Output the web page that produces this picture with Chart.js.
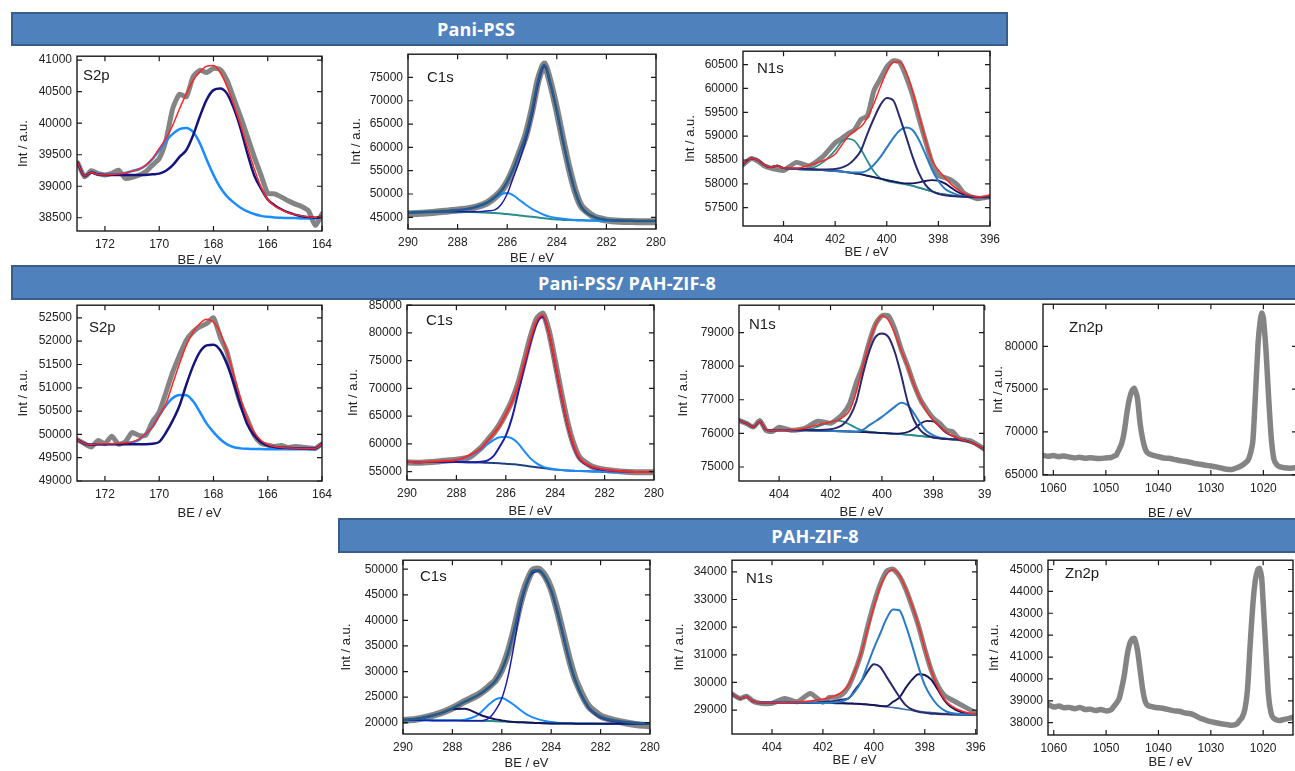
<!DOCTYPE html>
<html>
<head>
<meta charset="utf-8">
<script src="https://cdn.jsdelivr.net/npm/chart.js@4.4.0/dist/chart.umd.min.js"></script>
<style>
html,body{margin:0;padding:0;background:#fff;width:1295px;height:771px;overflow:hidden;position:relative;}
.bar{position:absolute;background:#4f81bd;border:2px solid #385d8a;box-sizing:border-box;color:#fff;font:700 18px "Open Sans",sans-serif;z-index:5;}
.bar span{position:absolute;top:50%;transform:translate(-50%,-52%);white-space:nowrap;letter-spacing:0.2px;}
canvas{position:absolute;}
</style>
</head>
<body>
<div class="bar" style="left:11px;top:12px;width:997px;height:34px"><span style="left:463px">Pani-PSS</span></div>
<div class="bar" style="left:11px;top:265px;width:1300px;height:35px"><span style="left:614px">Pani-PSS/ PAH-ZIF-8</span></div>
<div class="bar" style="left:338px;top:518px;width:970px;height:35px"><span style="left:475px">PAH-ZIF-8</span></div>
<script>
// ---------- shared x grids and tick labels ----------
const s2pGrid = [173,172.75,172.5,172.25,172,171.75,171.5,171.25,171,170.75,170.5,170.25,170,169.75,169.5,169.25,169,168.75,168.5,168.25,168,167.75,167.5,167.25,167,166.75,166.5,166.25,166,165.75,165.5,165.25,165,164.75,164.5,164.25,164];
const c1sGrid = [290,289.5,289,288.5,288,287.5,287,286.75,286.5,286.25,286,285.75,285.5,285.25,285,284.75,284.5,284.25,284,283.75,283.5,283.25,283,282.5,282,281.5,281,280.5,280];
const n1sGrid = [405.6,405.25,405,404.75,404.5,404.25,404,403.5,403,402.5,402,401.75,401.5,401.25,401,400.75,400.5,400.25,400,399.75,399.5,399.25,399,398.75,398.5,398.25,398,397.75,397.5,397.25,397,396.5,396];

const s2pTicksX = [172,170,168,166,164];
const c1sTicksX = [290,288,286,284,282,280];
const n1sTicksX = [404,402,400,398,396];
const zn2pTicksX = [1060,1050,1040,1030,1020];

// ---------- Pani-PSS : S2p ----------
const s2pA_ticksY = [38500,39000,39500,40000,40500,41000];
const s2pA_raw = [39370,39150,39245,39200,39180,39205,39255,39125,39140,39175,39230,39335,39440,39730,40235,40460,40420,40735,40840,40805,40870,40850,40680,40390,40100,39790,39470,39180,38890,38880,38830,38770,38720,38680,38610,38380,38560];
const s2pA_fit = [39370,39160,39220,39185,39180,39185,39195,39210,39240,39270,39330,39440,39600,39760,39970,40230,40470,40680,40815,40905,40915,40800,40580,40290,39970,39625,39280,38990,38790,38690,38630,38580,38550,38530,38515,38505,38520];
const s2pA_c1 = [39370,39160,39220,39185,39180,39180,39180,39180,39180,39180,39180,39190,39200,39245,39335,39465,39575,39810,40110,40375,40525,40550,40470,40235,39915,39520,39175,38965,38790,38700,38635,38585,38550,38525,38510,38500,38520];
const s2pA_c2 = [39370,39160,39220,39185,39180,39185,39195,39210,39240,39270,39330,39430,39570,39720,39830,39905,39925,39860,39680,39420,39180,38980,38840,38740,38660,38600,38560,38530,38515,38505,38500,38495,38495,38490,38490,38490,38510];

// ---------- Pani-PSS : C1s ----------
const c1sA_ticksY = [45000,50000,55000,60000,65000,70000,75000];
const c1sA_raw = [45750,45850,46050,46300,46550,46900,47650,48300,49300,50600,52600,55400,58900,62600,68000,74500,77900,73700,68000,61500,55500,50500,47300,45100,44400,44150,44100,44050,44050];
const c1sA_fit = [46000,46100,46200,46350,46550,46900,47700,48300,49300,50600,52600,55400,58900,62600,67900,74400,77700,73600,67900,61400,55400,50400,47200,45100,44450,44300,44250,44200,44200];
const c1sA_c1 = [46000,46100,46150,46200,46200,46180,46250,46400,46600,47700,50000,53600,57300,61500,66800,73500,77300,73300,67600,61200,55200,50300,47100,45050,44450,44300,44250,44200,44200];
const c1sA_c2 = [46000,46050,46100,46200,46350,46900,47500,48300,49200,49900,50200,49700,48700,47700,46800,46100,45500,45100,44850,44700,44550,44450,44400,44300,44250,44230,44220,44200,44200];
const c1sA_bg = [46000,46080,46150,46200,46200,46150,46050,46000,45900,45800,45700,45550,45400,45250,45100,44950,44800,44650,44550,44450,44400,44350,44300,44270,44250,44230,44220,44200,44200];

// ---------- Pani-PSS : N1s ----------
const n1sA_ticksY = [57500,58000,58500,59000,59500,60000,60500];
const n1sA_raw = [58390,58530,58480,58380,58330,58300,58280,58450,58380,58560,58860,58950,59050,59130,59350,59420,59950,60200,60450,60580,60550,60250,59860,59370,58900,58450,58180,58130,58080,57970,57800,57690,57730];
const n1sA_fit = [58390,58530,58500,58400,58350,58380,58330,58330,58390,58480,58620,58810,58990,59110,59195,59390,59680,60030,60345,60550,60555,60345,59930,59440,58920,58500,58290,58130,57990,57880,57800,57730,57760];
const n1sA_c1 = [58390,58530,58500,58400,58350,58380,58330,58320,58310,58300,58310,58340,58400,58520,58700,59050,59370,59650,59800,59750,59400,58990,58570,58220,57980,57850,57790,57760,57745,57735,57730,57720,57720];
const n1sA_c2 = [58390,58530,58500,58400,58350,58380,58330,58310,58300,58290,58270,58255,58245,58240,58240,58280,58400,58560,58760,58960,59120,59180,59130,58920,58620,58300,58060,57900,57820,57770,57740,57720,57720];
const n1sA_c3 = [58390,58530,58500,58400,58350,58380,58330,58310,58320,58440,58700,58880,58950,58900,58720,58480,58260,58120,58060,58030,58010,57990,57960,57920,57880,57840,57800,57780,57760,57745,57735,57725,57720];
const n1sA_c4 = [58390,58530,58500,58400,58350,58380,58330,58310,58300,58290,58270,58260,58240,58220,58200,58170,58140,58110,58080,58050,58025,58010,58010,58030,58060,58080,58070,58010,57920,57830,57770,57730,57720];
const n1sA_bg = [58390,58530,58500,58400,58350,58380,58330,58310,58300,58290,58270,58260,58240,58220,58200,58170,58140,58110,58080,58050,58020,57990,57960,57920,57880,57840,57800,57780,57760,57745,57735,57725,57720];

// ---------- Pani-PSS/PAH-ZIF-8 : S2p ----------
const s2pB_ticksY = [49000,49500,50000,50500,51000,51500,52000,52500];
const s2pB_raw = [49880,49800,49730,49870,49800,49960,49790,49840,50040,49980,49980,50270,50480,50900,51340,51700,52020,52200,52310,52380,52500,52090,51770,51160,50660,50320,49980,49810,49770,49740,49760,49720,49740,49730,49710,49700,49800];
const s2pB_fit = [49880,49800,49780,49800,49800,49800,49810,49820,49840,49900,50010,50160,50410,50660,51090,51520,51910,52200,52380,52470,52410,52185,51770,51270,50770,50325,50050,49875,49780,49740,49720,49710,49705,49700,49700,49700,49800];
const s2pB_c1 = [49880,49800,49780,49790,49790,49790,49790,49790,49790,49790,49790,49800,49840,50040,50300,50620,51070,51470,51770,51910,51925,51805,51505,51090,50625,50210,49980,49830,49760,49730,49715,49710,49705,49700,49700,49700,49800];
const s2pB_c2 = [49880,49800,49780,49790,49790,49795,49800,49810,49830,49880,50010,50160,50400,50620,50780,50845,50840,50710,50480,50230,50050,49895,49785,49725,49700,49690,49685,49685,49682,49680,49680,49680,49680,49680,49680,49685,49780];

// ---------- Pani-PSS/PAH-ZIF-8 : C1s ----------
const c1sB_ticksY = [55000,60000,65000,70000,75000,80000,85000];
const c1sB_raw = [56650,56600,56750,56950,57150,57550,59300,60600,61900,63500,65500,67800,70800,74900,79200,82500,83500,80200,74700,69000,63800,59900,57500,55900,55350,55100,54950,54900,54900];
const c1sB_fit = [56800,56700,56800,56950,57100,57900,59200,60500,61800,63300,65300,67600,70600,74700,78900,82200,83200,80000,74500,68800,63600,59700,57400,55900,55400,55150,55000,54950,54950];
const c1sB_c1 = [56800,56700,56750,56750,56750,56700,56800,57000,57800,59500,61500,64700,69200,73900,78300,81700,82900,79900,74300,68600,63400,59500,57200,55800,55300,55100,55000,54950,54950];
const c1sB_c2 = [56800,56700,56750,56800,57000,57800,59000,59900,60700,61200,61300,61000,60100,58700,57400,56500,55900,55600,55400,55300,55200,55150,55100,55050,55000,54980,54960,54950,54950];
const c1sB_bg = [56800,56700,56750,56750,56750,56700,56650,56600,56550,56500,56450,56350,56250,56100,55950,55800,55650,55500,55380,55280,55200,55150,55100,55050,55000,54980,54960,54950,54950];

// ---------- Pani-PSS/PAH-ZIF-8 : N1s ----------
const n1sB_ticksY = [75000,76000,77000,78000,79000];
const n1sB_raw = [76400,76290,76190,76380,76080,76060,76180,76090,76150,76360,76300,76420,76600,76900,77500,78000,78700,79250,79500,79500,79100,78500,78000,77450,77000,76700,76450,76300,76100,76050,75850,75760,75520];
const n1sB_fit = [76400,76290,76190,76350,76100,76090,76090,76100,76150,76250,76340,76380,76490,76690,77230,77980,78670,79220,79500,79370,78970,78470,77980,77430,76990,76640,76390,76190,76040,75930,75840,75720,75520];
const n1sB_c1 = [76400,76290,76190,76350,76100,76090,76090,76100,76100,76100,76120,76170,76270,76500,76940,77730,78420,78870,78970,78870,78420,77730,76940,76390,76090,75940,75880,75850,75830,75820,75810,75720,75520];
const n1sB_c2 = [76400,76290,76190,76350,76100,76090,76090,76090,76090,76080,76070,76065,76060,76055,76050,76100,76240,76360,76490,76640,76790,76910,76840,76590,76290,76060,75940,75870,75840,75820,75810,75720,75520];
const n1sB_c3 = [76400,76290,76190,76350,76100,76090,76090,76090,76090,76080,76070,76065,76060,76055,76050,76040,76030,76020,76010,76000,75990,76000,76040,76140,76290,76370,76360,76190,76020,75920,75840,75720,75520];
const n1sB_c4 = [76400,76290,76190,76350,76100,76090,76090,76090,76100,76200,76340,76380,76350,76260,76160,76080,76050,76030,76010,76000,75990,75975,75960,75940,75920,75900,75880,75860,75840,75830,75820,75720,75520];
const n1sB_bg = [76400,76290,76190,76350,76100,76090,76090,76090,76090,76080,76070,76065,76060,76055,76050,76040,76030,76020,76010,76000,75990,75975,75960,75940,75920,75900,75880,75860,75840,75830,75820,75720,75520];

// ---------- Pani-PSS/PAH-ZIF-8 : Zn2p ----------
const zn2pB_ticksY = [65000,70000,75000,80000];
const zn2pB_be = [1062,1061,1060,1059,1058,1057,1056,1055,1054,1053,1052,1051,1050,1049,1048.5,1048,1047.5,1047,1046.5,1046,1045.5,1045,1044.6,1044,1043.5,1043,1042.5,1042,1041.5,1041,1040,1039,1038,1037,1036,1035,1034,1033,1032,1031,1030,1029,1028,1027,1026,1025,1024,1023.5,1023,1022.5,1022,1021.5,1021,1020.6,1020.3,1020,1019.5,1019,1018.5,1018,1017.5,1017,1016,1015,1014,1013.5];
const zn2pB_raw = [67250,67150,67220,67100,67180,67050,66950,67020,66920,66980,66900,66880,66950,67000,67150,67300,67900,68600,70000,72200,73900,74850,75100,74000,71100,69200,68000,67500,67350,67250,67100,66950,66900,66780,66650,66550,66450,66300,66200,66100,66000,65900,65750,65620,65600,65800,66100,66350,66600,67400,69000,74500,80500,83000,83900,83300,79500,74000,69300,66800,66200,65950,65800,65750,65800,65780];

// ---------- PAH-ZIF-8 : C1s ----------
const c1sC_ticksY = [20000,25000,30000,35000,40000,45000,50000];
const c1sC_raw = [20450,20650,21150,21850,22850,24150,25350,26150,27150,28300,30400,33700,38200,43400,47300,49800,50000,48700,46100,41900,37000,32100,28200,23300,21300,20500,20000,19600,19400];
const c1sC_fit = [20520,20710,21170,21820,22800,24100,25270,26050,27030,28200,30280,33530,38090,43300,47200,49670,49800,48500,45900,41700,36800,31900,28000,23100,21170,20500,20150,19950,19850];
const c1sC_c1 = [20500,20480,20460,20440,20420,20400,20370,20450,20950,22450,24750,29000,35300,42300,46900,49300,49600,48300,45700,41500,36600,31700,27800,22900,20950,20300,19950,19850,19830];
const c1sC_c2 = [20520,20710,21150,21820,22660,22730,21820,21300,20970,20650,20450,20250,20150,20090,20030,19980,19930,19890,19860,19840,19830,19825,19820,19820,19820,19820,19820,19820,19820];
const c1sC_c3 = [20500,20480,20460,20440,20430,20600,21430,22470,23640,24550,24810,24290,23450,22470,21630,21040,20650,20330,20130,20000,19920,19870,19840,19830,19820,19820,19820,19820,19820];
const c1sC_bg = [20500,20480,20460,20440,20420,20400,20370,20350,20320,20290,20250,20200,20150,20090,20030,19980,19930,19890,19860,19840,19830,19825,19820,19820,19820,19820,19820,19820,19820];

// ---------- PAH-ZIF-8 : N1s ----------
const n1sC_ticksY = [29000,30000,31000,32000,33000,34000];
const n1sC_raw = [29600,29420,29500,29330,29250,29230,29240,29420,29300,29600,29280,29460,29470,29560,29840,30380,31050,32000,32850,33550,34030,34100,33850,33380,32750,32050,31200,30450,29900,29550,29400,29150,28900];
const n1sC_fit = [29600,29420,29480,29320,29280,29270,29270,29275,29290,29330,29400,29450,29530,29660,29900,30390,31050,31890,32730,33460,33920,34080,33880,33400,32800,32070,31230,30440,29840,29420,29180,28950,28850];
const n1sC_c1 = [29600,29420,29480,29320,29280,29270,29270,29270,29270,29270,29260,29260,29280,29320,29420,29660,30020,30630,31230,31770,32310,32640,32610,32070,31350,30570,29900,29480,29180,29000,28900,28850,28830];
const n1sC_c2 = [29600,29420,29480,29320,29280,29270,29270,29270,29270,29270,29290,29310,29340,29380,29420,29720,30020,30390,30660,30560,30200,29840,29480,29180,29020,28940,28900,28870,28860,28850,28840,28830,28820];
const n1sC_c3 = [29600,29420,29480,29320,29280,29270,29270,29270,29270,29265,29260,29255,29250,29245,29240,29230,29220,29200,29180,29150,29140,29300,29450,29800,30100,30300,30270,30100,29750,29380,29130,28900,28840];
const n1sC_bg = [29600,29420,29480,29320,29280,29270,29270,29270,29270,29265,29260,29255,29250,29245,29240,29230,29220,29200,29180,29150,29120,29090,29060,29020,28990,28960,28930,28910,28890,28870,28860,28840,28830];

// ---------- PAH-ZIF-8 : Zn2p ----------
const zn2pC_ticksY = [38000,39000,40000,41000,42000,43000,44000,45000];
const zn2pC_be = [1061.2,1060,1059,1058,1057,1056,1055,1054,1053,1052,1051,1050,1049,1048.5,1048,1047.5,1047,1046.5,1046,1045.5,1045,1044.6,1044,1043.5,1043,1042.5,1042,1041,1040,1039,1038,1037,1036,1035,1034,1033,1032,1031,1030,1029,1028,1027,1026,1025,1024.5,1024,1023.5,1023,1022.5,1022,1021.5,1021,1020.7,1020.3,1020,1019.5,1019,1018.5,1018,1017,1016,1015,1014.2];
const zn2pC_raw = [38850,38720,38760,38680,38700,38640,38700,38600,38620,38560,38600,38540,38600,38750,38900,39100,39600,40200,41050,41600,41830,41850,41300,40400,39500,38950,38780,38720,38680,38650,38600,38540,38520,38450,38420,38330,38200,38120,38050,38000,37950,37920,37880,37950,38100,38250,38600,39500,41500,43300,44500,45000,45050,44650,43500,41400,39300,38450,38200,38100,38150,38200,38250];

// ---------- styles ----------
const GRAY = 'rgba(122,122,122,0.92)';
const RED = '#ff2626';
const NAVY = '#14147c';
const LBLUE = '#1a8cff';
const TEAL = '#2a8c8c';
const STEEL = '#2a7bc4';
const SLATE = '#2a2a6e';
const DNAVY = '#16165a';
const BGBLUE = '#3a6ea8';
const ENV = '#255b8a';
const FONT = '"Liberation Sans", Arial, Helvetica, sans-serif';

Chart.defaults.font.family = FONT;
Chart.defaults.color = '#222';

const framePlugin = {
  id: 'frame',
  afterDatasetsDraw(chart, args, opts) {
    const {ctx, chartArea: a, scales} = chart;
    const x = scales.x, y = scales.y;
    ctx.save();
    ctx.strokeStyle = '#1a1a1a';
    ctx.lineWidth = 1.4;
    ctx.strokeRect(a.left, a.top, a.right - a.left, a.bottom - a.top);
    ctx.beginPath();
    const L = 5;
    x.ticks.forEach(t => {
      const p = x.getPixelForValue(t.value);
      ctx.moveTo(p, a.bottom); ctx.lineTo(p, a.bottom - L);
      ctx.moveTo(p, a.top); ctx.lineTo(p, a.top + L);
    });
    y.ticks.forEach(t => {
      const p = y.getPixelForValue(t.value);
      ctx.moveTo(a.left, p); ctx.lineTo(a.left + L, p);
      ctx.moveTo(a.right, p); ctx.lineTo(a.right - L, p);
    });
    ctx.lineWidth = 1.2;
    ctx.stroke();
    ctx.fillStyle = '#1a1a1a';
    ctx.font = '15px ' + FONT;
    ctx.textBaseline = 'alphabetic';
    ctx.fillText(opts.label, a.left + opts.dx, a.top + opts.dy);
    ctx.restore();
  }
};

function makeChart(cfg) {
  const padL = 72, padT = 12, padR = 22, padB = 46;
  const b = cfg.box;
  const w = b.r - b.l + padL + padR, h = b.b - b.t + padT + padB;
  const cv = document.createElement('canvas');
  cv.width = w; cv.height = h;
  cv.style.left = (b.l - padL) + 'px';
  cv.style.top = (b.t - padT) + 'px';
  cv.style.width = w + 'px';
  cv.style.height = h + 'px';
  document.body.appendChild(cv);
  const datasets = cfg.series.map(s => ({
    data: cfg.xs.map((xv, i) => ({x: xv, y: s.data[i]})),
    borderColor: s.color,
    borderWidth: s.width,
    pointRadius: 0,
    fill: false,
    cubicInterpolationMode: s.raw ? 'default' : 'monotone',
    tension: s.raw ? 0.2 : 0,
    borderJoinStyle: 'round',
    borderCapStyle: 'round'
  })).reverse();
  new Chart(cv.getContext('2d'), {
    type: 'line',
    data: {datasets},
    options: {
      responsive: false,
      animation: false,
      devicePixelRatio: 1,
      events: [],
      layout: {padding: {left: 0, top: padT, right: padR, bottom: 0}},
      plugins: {
        legend: {display: false},
        tooltip: {enabled: false},
        frame: {label: cfg.label, dx: cfg.ldx, dy: cfg.ldy}
      },
      scales: {
        x: {
          type: 'linear', reverse: true, min: cfg.xMin, max: cfg.xMax,
          afterFit: s => { s.height = padB; },
          afterBuildTicks: s => { s.ticks = cfg.xTicks.map(v => ({value: v})); },
          grid: {display: false, drawTicks: false},
          border: {display: false},
          ticks: {padding: 6, color: '#222', font: {size: 12}, maxRotation: 0, autoSkip: false,
                  callback: cfg.xFmt || (v => String(v))},
          title: {display: true, text: 'BE / eV', color: '#222', font: {size: 13},
                  padding: {top: 0, bottom: padB - cfg.xto - 7.8}}
        },
        y: {
          type: 'linear', min: cfg.yMin, max: cfg.yMax,
          afterFit: s => { s.width = padL; },
          afterBuildTicks: s => { s.ticks = cfg.yTicks.map(v => ({value: v})); },
          grid: {display: false, drawTicks: false},
          border: {display: false},
          ticks: {padding: 5, color: '#222', font: {size: 12}, autoSkip: false,
                  callback: v => String(v)},
          title: {display: true, text: 'Int / a.u.', color: '#222', font: {size: 13},
                  padding: {top: padL - cfg.yto - 7.8, bottom: 0}}
        }
      }
    },
    plugins: [framePlugin]
  });
}

// ---------- charts ----------
makeChart({box:{l:77,t:56,r:322,b:231}, xs:s2pGrid, xMin:164, xMax:173.03, yMin:38290, yMax:41063,
  xTicks:s2pTicksX, yTicks:s2pA_ticksY, label:'S2p', ldx:6, ldy:23.5, yto:54, xto:29,
  series:[{data:s2pA_raw,color:GRAY,width:5,raw:true},{data:s2pA_c2,color:LBLUE,width:2.5},
          {data:s2pA_c1,color:NAVY,width:2.5},{data:s2pA_fit,color:RED,width:1.5}]});

makeChart({box:{l:408,t:54,r:656,b:229}, xs:c1sGrid, xMin:280, xMax:290, yMin:42493, yMax:79990,
  xTicks:c1sTicksX, yTicks:c1sA_ticksY, label:'C1s', ldx:19, ldy:28, yto:52, xto:29,
  series:[{data:c1sA_raw,color:GRAY,width:7,raw:true},{data:c1sA_bg,color:TEAL,width:2},
          {data:c1sA_c2,color:LBLUE,width:2},{data:c1sA_c1,color:'#1c1ca8',width:1.5},
          {data:c1sA_fit,color:ENV,width:2.5}]});

makeChart({box:{l:743,t:51,r:990,b:226}, xs:n1sGrid, xMin:396, xMax:405.57, yMin:57117, yMax:60780,
  xTicks:n1sTicksX, yTicks:n1sA_ticksY, label:'N1s', ldx:14, ldy:22, yto:53, xto:26,
  series:[{data:n1sA_raw,color:GRAY,width:5,raw:true},{data:n1sA_bg,color:BGBLUE,width:1.6},
          {data:n1sA_c3,color:TEAL,width:1.8},{data:n1sA_c4,color:DNAVY,width:1.8},
          {data:n1sA_c2,color:STEEL,width:2},{data:n1sA_c1,color:SLATE,width:2},
          {data:n1sA_fit,color:RED,width:1.5}]});

makeChart({box:{l:77,t:305,r:322,b:481}, xs:s2pGrid, xMin:164, xMax:173.03, yMin:49000, yMax:52772,
  xTicks:s2pTicksX, yTicks:s2pB_ticksY, label:'S2p', ldx:12, ldy:27, yto:54, xto:32,
  series:[{data:s2pB_raw,color:GRAY,width:5,raw:true},{data:s2pB_c2,color:LBLUE,width:2.5},
          {data:s2pB_c1,color:NAVY,width:2.5},{data:s2pB_fit,color:RED,width:1.5}]});

makeChart({box:{l:407,t:305,r:654,b:480}, xs:c1sGrid, xMin:280, xMax:290, yMin:53500, yMax:85000,
  xTicks:c1sTicksX, yTicks:c1sB_ticksY, label:'C1s', ldx:19, ldy:20, yto:54, xto:31,
  series:[{data:c1sB_raw,color:GRAY,width:6,raw:true},{data:c1sB_bg,color:'#1f3f7f',width:2},
          {data:c1sB_c2,color:LBLUE,width:2},{data:c1sB_c1,color:'#1c1ca8',width:2},
          {data:c1sB_fit,color:RED,width:2}]});

makeChart({box:{l:739,t:305,r:984,b:481}, xs:n1sGrid, xMin:396.03, xMax:405.56, yMin:74583, yMax:79813,
  xTicks:n1sTicksX, yTicks:n1sB_ticksY, label:'N1s', ldx:10, ldy:24, yto:56, xto:31,
  xFmt: v => (v === 396 ? '39' : String(v)),
  series:[{data:n1sB_raw,color:GRAY,width:5,raw:true},{data:n1sB_bg,color:BGBLUE,width:1.6},
          {data:n1sB_c4,color:TEAL,width:1.8},{data:n1sB_c3,color:DNAVY,width:1.8},
          {data:n1sB_c2,color:STEEL,width:2},{data:n1sB_c1,color:SLATE,width:2},
          {data:n1sB_fit,color:RED,width:1.5}]});

makeChart({box:{l:1043,t:304,r:1297,b:475}, xs:zn2pB_be, xMin:1013.6, xMax:1061.97, yMin:64950, yMax:84950,
  xTicks:zn2pTicksX, yTicks:zn2pB_ticksY, label:'Zn2p', ldx:26, ldy:28, yto:45, xto:38,
  series:[{data:zn2pB_raw,color:GRAY,width:5.5,raw:true}]});

makeChart({box:{l:403,t:560,r:650,b:734}, xs:c1sGrid, xMin:280, xMax:290, yMin:17793, yMax:51758,
  xTicks:c1sTicksX, yTicks:c1sC_ticksY, label:'C1s', ldx:17, ldy:21, yto:57, xto:29,
  series:[{data:c1sC_raw,color:GRAY,width:7,raw:true},{data:c1sC_bg,color:TEAL,width:2},
          {data:c1sC_c3,color:LBLUE,width:2},{data:c1sC_c2,color:DNAVY,width:2},
          {data:c1sC_c1,color:'#1c1ca8',width:1.5},{data:c1sC_fit,color:ENV,width:2.5}]});

makeChart({box:{l:732,t:560,r:977,b:734}, xs:n1sGrid, xMin:395.95, xMax:405.57, yMin:28134, yMax:34422,
  xTicks:n1sTicksX, yTicks:n1sC_ticksY, label:'N1s', ldx:14, ldy:23, yto:53, xto:26,
  series:[{data:n1sC_raw,color:GRAY,width:5,raw:true},{data:n1sC_bg,color:BGBLUE,width:1.6},
          {data:n1sC_c3,color:DNAVY,width:2},{data:n1sC_c2,color:SLATE,width:2},
          {data:n1sC_c1,color:STEEL,width:2},{data:n1sC_fit,color:RED,width:1.5}]});

makeChart({box:{l:1048,t:560,r:1293,b:735}, xs:zn2pC_be, xMin:1014.3, xMax:1061.1, yMin:37438, yMax:45425,
  xTicks:zn2pTicksX, yTicks:zn2pC_ticksY, label:'Zn2p', ldx:17, ldy:18, yto:54, xto:27,
  series:[{data:zn2pC_raw,color:GRAY,width:5.5,raw:true}]});
</script>
</body>
</html>
